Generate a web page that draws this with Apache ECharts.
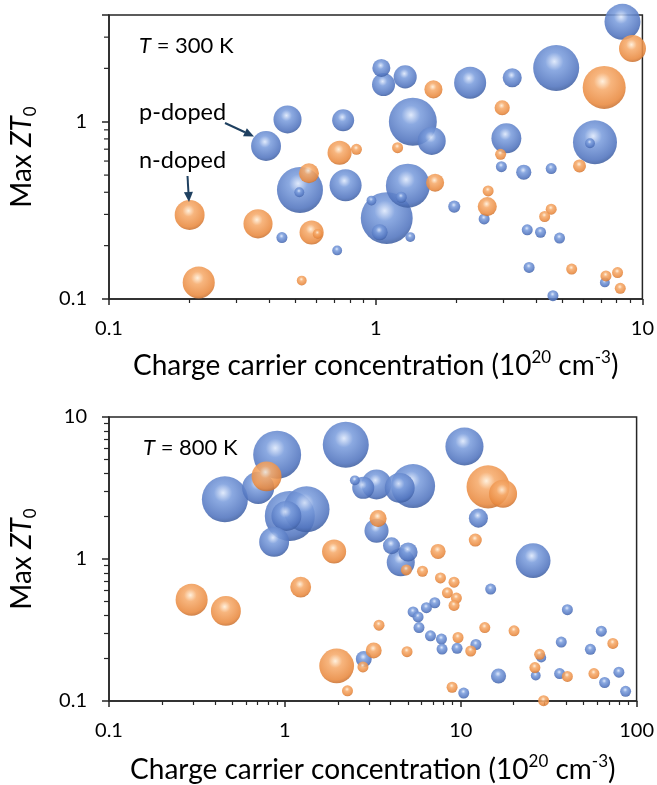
<!DOCTYPE html>
<html>
<head>
<meta charset="utf-8">
<script src="https://cdn.jsdelivr.net/npm/echarts@6/dist/echarts.min.js"></script>
<style>
html, body { margin: 0; padding: 0; background: #fff; }
#chart { width: 657px; height: 785px; }
</style>
</head>
<body>
<div id="chart"></div>
<script>
// each point: [carrier concentration (1e20 cm^-3), max ZT0, bubble size]
var p300 = [
    [0.388, 0.730, 7.4], [0.467, 1.03, 6.5], [0.755, 1.02, 4], [0.52, 0.412, 17.5],
    [0.517, 0.400, 0.8], [0.771, 0.438, 8.5], [0.964, 0.359, 0.8], [0.445, 0.222, 1],
    [0.717, 0.188, 0.8], [8.42, 3.66, 10.7], [4.75, 2.01, 17.5], [1.05, 2.01, 2.7],
    [1.07, 1.62, 4.4], [1.29, 1.79, 4.4], [2.26, 1.66, 8.5], [3.25, 1.77, 3],
    [1.378, 1.0, 19], [1.622, 0.779, 6.5], [3.09, 0.806, 7.4], [6.64, 0.766, 16],
    [6.36, 0.756, 0.8], [2.96, 0.558, 1], [3.59, 0.519, 1.9], [4.55, 0.544, 1],
    [1.32, 0.436, 16], [1.10, 0.286, 22.3], [1.247, 0.375, 1], [1.035, 0.238, 2.1],
    [1.348, 0.2235, 0.8], [1.97, 0.332, 1.2], [2.55, 0.283, 1], [3.70, 0.2456, 1],
    [4.15, 0.238, 1], [4.89, 0.2206, 1], [3.76, 0.1507, 1], [7.23, 0.124, 0.8],
    [4.62, 0.1044, 1]
];
var n300 = [
    [0.732, 0.669, 4.8], [0.847, 0.699, 1], [0.562, 0.512, 3.3], [0.2006, 0.298, 7.4],
    [0.362, 0.2655, 7], [0.575, 0.237, 4.8], [0.606, 0.233, 0.8], [0.528, 0.127, 0.8],
    [0.217, 0.124, 8.5], [9.18, 2.59, 6], [7.19, 1.562, 15.3], [1.646, 1.522, 2.7],
    [2.98, 1.199, 1.9], [1.208, 0.714, 1], [2.94, 0.655, 1], [5.81, 0.563, 1.4],
    [1.67, 0.453, 2.7], [2.64, 0.407, 1], [2.62, 0.332, 3], [4.55, 0.321, 1],
    [4.30, 0.292, 1], [5.43, 0.1475, 1], [7.30, 0.135, 1], [8.07, 0.141, 1],
    [8.26, 0.1148, 1]
];
var p800 = [
    [0.904, 5.42, 19], [2.22, 6.37, 17.5], [0.705, 3.17, 8.5], [0.456, 2.63, 17.5],
    [1.067, 2.01, 20.7], [1.328, 2.24, 17.5], [1.02, 2.01, 7.4], [0.869, 1.32, 7.4],
    [2.50, 3.58, 0.8], [2.79, 3.17, 4], [3.32, 3.35, 7.4], [5.36, 3.26, 16],
    [4.50, 3.17, 7.4], [3.32, 1.58, 4.8], [4.04, 1.24, 2.4], [5.02, 1.12, 3],
    [4.56, 0.948, 6.5], [10.5, 6.20, 12], [12.6, 1.94, 3], [25.8, 0.973, 10],
    [14.8, 0.614, 1], [40.4, 0.440, 1], [7.12, 0.492, 1], [6.38, 0.454, 1],
    [5.36, 0.424, 1], [5.72, 0.391, 1], [5.79, 0.329, 1], [6.73, 0.288, 1],
    [7.77, 0.273, 1], [7.83, 0.232, 1], [9.53, 0.235, 1], [12.2, 0.250, 1],
    [2.81, 0.1976, 2.1], [37.3, 0.260, 1], [63.0, 0.310, 1], [54.6, 0.231, 1],
    [28.7, 0.202, 0.8], [26.7, 0.151, 0.8], [16.4, 0.150, 1.9], [36.5, 0.156, 1],
    [79.3, 0.1595, 1], [65.8, 0.135, 1], [86.6, 0.117, 1], [10.4, 0.1138, 1]
];
var n800 = [
    [0.787, 3.82, 7.4], [1.905, 1.13, 4.8], [3.39, 1.93, 2.4], [4.91, 0.838, 1],
    [14.3, 3.22, 15.3], [17.4, 2.88, 6.5], [12.1, 1.36, 1.4], [7.43, 1.13, 1.9],
    [6.06, 0.820, 1], [7.67, 0.736, 1], [9.16, 0.687, 1], [8.40, 0.578, 1],
    [9.45, 0.531, 1], [9.16, 0.471, 1], [9.65, 0.280, 1], [11.4, 0.225, 1],
    [13.7, 0.329, 1], [20.1, 0.312, 1], [3.43, 0.342, 1], [3.20, 0.227, 2.1],
    [4.95, 0.2226, 1], [2.78, 0.1738, 1], [1.97, 0.1766, 10], [2.27, 0.118, 1],
    [1.23, 0.634, 3.6], [0.295, 0.517, 8.5], [0.462, 0.431, 7.4], [73.3, 0.2545, 1],
    [28.1, 0.213, 1], [26.4, 0.172, 1], [40.4, 0.149, 1], [57.2, 0.156, 1],
    [8.93, 0.125, 1], [29.6, 0.1005, 1], [7.93, 0.0984, 0.8], [11.5, 0.098, 0.8],
    [15.8, 0.0957, 0.6], [3.16, 0.098, 0.8]
];
// minor ticks of the 300 K y axis (runs 0.1 to 4)
var yMinor300 = [0.2, 0.3, 0.4, 0.5, 0.6, 0.7, 0.8, 0.9, 2, 3];

var font = 'Lato, "Open Sans", sans-serif';
var ink = '#262626';
var arrowInk = '#1f4060';

var titleRich = {
    n: { fontFamily: font, fontSize: 28, color: '#000', lineHeight: 34 },
    i: { fontFamily: font, fontSize: 28, color: '#000', lineHeight: 34, fontStyle: 'italic' },
    sup: { fontFamily: font, fontSize: 17, color: '#000', lineHeight: 17, verticalAlign: 'top' },
    sub: { fontFamily: font, fontSize: 17, color: '#000', lineHeight: 17, verticalAlign: 'bottom' }
};
var xTitle = '{n|Charge carrier concentration (10}{sup|20}{n| cm}{sup|-3}{n|)}';
var yTitle = '{n|Max }{i|ZT}{sub|0}';

function decadeLabel(v) {
    var l = Math.log10(v);
    if (Math.abs(l - Math.round(l)) > 1e-6) return '';
    return v < 1 ? v.toFixed(1) : String(Math.round(v));
}

function sphere(c0, c1, c2, c3) {
    return {
        type: 'radial', x: 0.46, y: 0.36, r: 0.66,
        colorStops: [
            { offset: 0, color: c0 }, { offset: 0.3, color: c1 },
            { offset: 0.82, color: c2 }, { offset: 1, color: c3 }
        ]
    };
}
var blueBall = sphere('#dce7fb', '#7c9edd', '#5275bf', '#3d5c9c');
var orangeBall = sphere('#ffeed8', '#f6ab6c', '#e98a40', '#c46e30');

function bubbles(data, idx, color) {
    var sorted = data.slice().sort(function (a, b) { return b[2] - a[2]; });
    return {
        type: 'scatter', xAxisIndex: idx, yAxisIndex: idx,
        data: sorted,
        symbolSize: function (d) { return 11 * Math.sqrt(d[2]); },
        itemStyle: { color: color, opacity: 0.88 },
        emphasis: { disabled: true },
        clip: true, z: 3
    };
}

function logX(idx, max, gap) {
    return {
        type: 'log', logBase: 10, gridIndex: idx, min: 0.1, max: max,
        name: xTitle, nameLocation: 'middle', nameGap: gap,
        nameTextStyle: { rich: titleRich },
        axisLine: { show: true, onZero: false, lineStyle: { color: ink, width: 1.5 } },
        axisTick: { show: true, length: 6, lineStyle: { color: ink, width: 1.5 } },
        minorTick: { show: true, splitNumber: 9, length: 4, lineStyle: { color: ink, width: 1.2 } },
        splitLine: { show: false },
        axisLabel: { fontFamily: font, fontSize: 20, color: '#000', margin: 20, formatter: decadeLabel }
    };
}

function logY(idx, max, minor) {
    return {
        type: 'log', logBase: 10, gridIndex: idx, min: 0.1, max: max,
        name: yTitle, nameLocation: 'middle', nameRotate: 90, nameGap: 70,
        nameTextStyle: { rich: titleRich },
        axisLine: { show: true, onZero: false, lineStyle: { color: ink, width: 1.5 } },
        axisTick: { show: true, length: 7, lineStyle: { color: ink, width: 1.5 } },
        minorTick: { show: minor, splitNumber: 9, length: 5, lineStyle: { color: ink, width: 1.2 } },
        splitLine: { show: false },
        axisLabel: { fontFamily: font, fontSize: 20, color: '#000', margin: 22, formatter: decadeLabel }
    };
}

function arrow(x1, y1, x2, y2) {
    var dx = x2 - x1, dy = y2 - y1, len = Math.sqrt(dx * dx + dy * dy);
    var ux = dx / len, uy = dy / len, hl = 10, hw = 4.5;
    var bx = x2 - ux * hl, by = y2 - uy * hl;
    return [
        { type: 'line', shape: { x1: x1, y1: y1, x2: bx, y2: by },
          style: { stroke: arrowInk, lineWidth: 2 }, z: 10 },
        { type: 'polygon',
          shape: { points: [[x2, y2], [bx - uy * hw, by + ux * hw], [bx + uy * hw, by - ux * hw]] },
          style: { fill: arrowInk }, z: 10 }
    ];
}

function note(x, y, text, size) {
    var rich = {
        n: { fontFamily: font, fontSize: size, fill: '#000', color: '#000' },
        i: { fontFamily: font, fontSize: size, fill: '#000', color: '#000', fontStyle: 'italic' }
    };
    return { type: 'text', x: x, y: y, z: 10,
        style: { text: text, rich: rich, fontFamily: font, fontSize: size, fill: '#000', verticalAlign: 'middle' } };
}

var dom = document.getElementById('chart');
var myChart = echarts.init(dom, null, { renderer: 'canvas' });

var option = {
    animation: false,
    backgroundColor: '#fff',
    grid: [
        { left: 109, top: 15, width: 534, height: 284, show: true, borderColor: ink, borderWidth: 1.5, backgroundColor: 'transparent' },
        { left: 109, top: 417, width: 528, height: 287, show: true, borderColor: ink, borderWidth: 1.5, backgroundColor: 'transparent' }
    ],
    xAxis: [logX(0, 10, 50), logX(1, 100, 52)],
    yAxis: [logY(0, 4, false), logY(1, 10, true)],
    series: [
        bubbles(p300, 0, blueBall),
        bubbles(n300, 0, orangeBall),
        bubbles(p800, 1, blueBall),
        bubbles(n800, 1, orangeBall),
        {
            type: 'custom', xAxisIndex: 0, yAxisIndex: 0, silent: true, clip: false,
            data: yMinor300.map(function (v) { return [0.1, v]; }),
            renderItem: function (params, api) {
                var p = api.coord([api.value(0), api.value(1)]);
                return { type: 'line', shape: { x1: p[0] - 5, y1: p[1], x2: p[0], y2: p[1] },
                    style: { stroke: ink, lineWidth: 1.2 } };
            }
        }
    ],
    graphic: [
        note(139, 46, '{i|T}{n| = 300 K}', 22),
        note(139, 112, '{n|p-doped}', 23.5),
        note(139, 160, '{n|n-doped}', 23.5),
        note(143, 448, '{i|T}{n| = 800 K}', 22)
    ].concat(arrow(225, 123, 254, 136.5), arrow(187.5, 176, 189, 202))
};

myChart.setOption(option);
window.addEventListener('resize', myChart.resize);
</script>
</body>
</html>
